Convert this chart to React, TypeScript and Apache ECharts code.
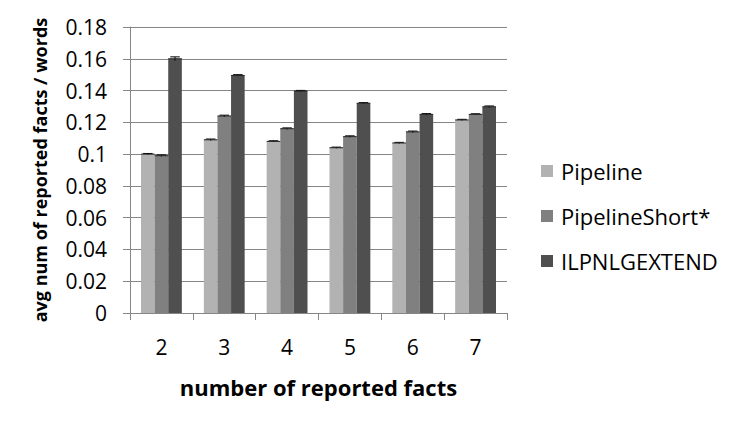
import React, { useEffect, useRef } from "react";
import * as echarts from "echarts";

const categories = ["2", "3", "4", "5", "6", "7"];
const seriesNames = ["Pipeline", "PipelineShort*", "ILPNLGEXTEND"];
const pipeline = [0.1, 0.109, 0.108, 0.104, 0.107, 0.1215];
const pipelineShort = [0.099, 0.124, 0.116, 0.111, 0.114, 0.125];
const ilpnlgExtend = [0.16, 0.1495, 0.1397, 0.132, 0.125, 0.1298];
const pipelineErr = [0.0004, 0.0005, 0.0004, 0.0004, 0.0004, 0.0004];
const pipelineShortErr = [0.0005, 0.0005, 0.0005, 0.0005, 0.0005, 0.0004];
const ilpnlgExtendErr = [0.0012, 0.0005, 0.0004, 0.0004, 0.0005, 0.0005];
const yTicks = [0, 0.02, 0.04, 0.06, 0.08, 0.1, 0.12, 0.14, 0.16, 0.18];

const colors = ["#b2b2b2", "#808080", "#4f4f4f"];
const FONT = "Open Sans";
const CAT_GAP = 0.35;

export default function App() {
  const ref = useRef<HTMLDivElement>(null);
  useEffect(() => {
    if (!ref.current) return;
    const chart = echarts.init(ref.current, undefined, { renderer: "svg" });
    const values = [pipeline, pipelineShort, ilpnlgExtend];
    const errs = [pipelineErr, pipelineShortErr, ilpnlgExtendErr];

    const barSeries = values.map((v, i) => ({
      type: "bar",
      name: seriesNames[i],
      data: v,
      barGap: "0%",
      barCategoryGap: CAT_GAP * 100 + "%",
      itemStyle: { color: colors[i] },
    }));

    const errSeries = values.map((v, i) => ({
      type: "custom",
      name: seriesNames[i] + " err",
      data: v.map((val, k) => [k, val, errs[i][k]]),
      z: 5,
      renderItem: (params: any, api: any) => {
        const k = api.value(0);
        const val = api.value(1);
        const e = api.value(2);
        const center = api.coord([k, val]);
        const catW = api.size([1, 0])[0];
        const bw = (catW * (1 - CAT_GAP)) / 3;
        const x = center[0] + (i - 1) * bw;
        const hi = api.coord([k, val + e])[1];
        const lo = api.coord([k, val - e])[1];
        const cw = bw * 0.7;
        const st = { stroke: "#000", lineWidth: 1 };
        return {
          type: "group",
          children: [
            { type: "line", shape: { x1: x, y1: hi, x2: x, y2: lo }, style: st },
            { type: "line", shape: { x1: x - cw / 2, y1: hi, x2: x + cw / 2, y2: hi }, style: st },
            { type: "line", shape: { x1: x - bw / 2, y1: center[1], x2: x + bw / 2, y2: center[1] }, style: { stroke: "#222", lineWidth: 1 } },
          ],
        };
      },
    }));

    chart.setOption({
      animation: false,
      grid: { left: 130, right: 245, top: 27, bottom: 117 },
      legend: {
        data: seriesNames.map((n) => ({ name: n, icon: "rect" })),
        orient: "vertical",
        left: 541,
        top: 160,
        padding: 0,
        itemWidth: 12,
        itemHeight: 12,
        itemGap: 23,
        textStyle: { fontFamily: FONT, fontSize: 22, color: "#000", padding: [0, 0, 0, 3] },
      },
      xAxis: {
        type: "category",
        data: categories,
        name: "number of reported facts",
        nameLocation: "middle",
        nameGap: 63,
        nameTextStyle: { fontFamily: FONT, fontSize: 22, fontWeight: "bold", color: "#000" },
        axisLine: { lineStyle: { color: "#868686" } },
        axisTick: { show: true, length: 7, lineStyle: { color: "#868686" } },
        axisLabel: { fontFamily: FONT, fontSize: 21, color: "#000", margin: 23 },
      },
      yAxis: {
        type: "value",
        min: 0,
        max: 0.18,
        interval: 0.02,
        name: "avg num of reported facts / words",
        nameLocation: "middle",
        nameGap: 81,
        nameTextStyle: { fontFamily: FONT, fontSize: 18, fontWeight: "bold", color: "#000" },
        axisLine: { show: true, lineStyle: { color: "#868686" } },
        axisTick: { show: true, length: 7, lineStyle: { color: "#868686" } },
        splitLine: { lineStyle: { color: "#868686" } },
        axisLabel: {
          fontFamily: FONT,
          fontSize: 21,
          color: "#000",
          margin: 23,
          formatter: (v: number) => {
            const t = yTicks.find((y) => Math.abs(y - v) < 1e-9);
            return String(t !== undefined ? t : v);
          },
        },
      },
      series: [...barSeries, ...errSeries],
    });
    return () => chart.dispose();
  }, []);
  return (
    <div
      ref={ref}
      style={{ position: "absolute", left: 0, top: 0, width: 752, height: 430 }}
    />
  );
}
